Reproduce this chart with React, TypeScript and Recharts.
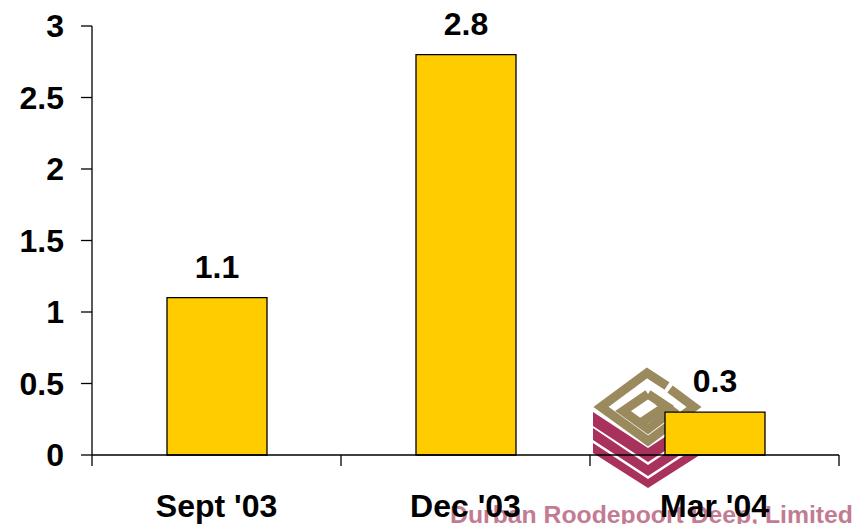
import React from "react";
import { BarChart, Bar, XAxis, YAxis, LabelList, Customized } from "recharts";

const categories = ["Sept '03", "Dec '03", "Mar '04"];
const values = [1.1, 2.8, 0.3];
const yTicks = [0, 0.5, 1, 1.5, 2, 2.5, 3];
const watermark = "Durban Roodepoort Deep, Limited";
const data = categories.map((name, i) => ({ name, value: values[i] }));

const FONT = "Liberation Sans, Arial, sans-serif";
const BAND = 249;
const TAN = "#9a8a5e";
const RED = "#a8325c";

const XTick = (props: any) => {
  const { x, y, payload, index } = props;
  return (
    <g>
      <line x1={x - BAND / 2} x2={x - BAND / 2} y1={y - 8} y2={y + 3} stroke="#000" strokeWidth={1.3} />
      {index === categories.length - 1 && (
        <line x1={x + BAND / 2} x2={x + BAND / 2} y1={y - 8} y2={y + 3} stroke="#000" strokeWidth={1.3} />
      )}
      <text x={x} y={y + 54} textAnchor="middle" fontFamily={FONT} fontWeight={700} fontSize={32} fill="#000">
        {payload.value}
      </text>
    </g>
  );
};

const Logo = () => (
  <g>
    <text x={450} y={523} fontFamily={FONT} fontWeight={700} fontSize={24} fill="#b0506f" opacity={0.75} textLength={403} lengthAdjust="spacingAndGlyphs">
      {watermark}
    </text>
    <path d="M593 412 L648 448 L703 412 L703 426 L648 462 L593 426 Z" fill={RED} />
    <path d="M593 428 L648 465 L703 428 L703 440 L648 476 L593 440 Z" fill={RED} />
    <path d="M593 443 L648 479 L703 443 L703 453 L648 488 L593 453 Z" fill={RED} />
    <g fill="none" stroke={TAN} strokeWidth={9} strokeLinejoin="miter">
      <path d="M667 386 L647 373 L601 407 L648 441 L694 407 L670 389" />
      <path d="M648 394 L623 411 L648 429 L672 411 L658 401" />
      <path d="M648 394 L666 406 L642 422" />
    </g>
  </g>
);

export default function App() {
  return (
    <div style={{ position: "absolute", left: 0, top: 0 }}>
      <BarChart width={859} height={524} data={data} margin={{ top: 26, right: 20, bottom: 0, left: 0 }} barSize={100}>
        <Customized component={Logo} />
        <YAxis
          width={92}
          domain={[0, 3]}
          ticks={yTicks}
          interval={0}
          tickLine={{ stroke: "#000", strokeWidth: 1.3 }}
          tickSize={11}
          axisLine={{ stroke: "#000", strokeWidth: 1.3 }}
          tick={{ fontFamily: FONT, fontWeight: 700, fontSize: 32, fill: "#000" }}
          tickMargin={17}
        />
        <XAxis
          dataKey="name"
          height={69}
          tick={<XTick />}
          tickLine={false}
          axisLine={{ stroke: "#000", strokeWidth: 1.3 }}
          interval={0}
        />
        <Bar dataKey="value" fill="#ffcc00" stroke="#000" strokeWidth={1.3} isAnimationActive={false}>
          <LabelList dataKey="value" position="top" offset={20} style={{ fontFamily: FONT, fontWeight: 700, fontSize: 32, fill: "#000" }} />
        </Bar>
      </BarChart>
    </div>
  );
}
